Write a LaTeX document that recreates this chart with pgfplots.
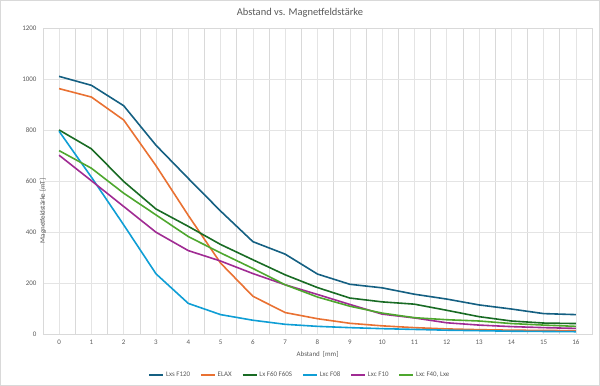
\documentclass[border=0pt]{standalone}
\usepackage{pgfplots}
\pgfplotsset{compat=1.18}
\usepackage{fontspec}
\setmainfont{Carlito}
\definecolor{cA}{HTML}{156082}
\definecolor{cB}{HTML}{E97132}
\definecolor{cC}{HTML}{196B24}
\definecolor{cD}{HTML}{0F9ED5}
\definecolor{cE}{HTML}{A02B93}
\definecolor{cF}{HTML}{4EA72E}
\definecolor{txt}{HTML}{595959}
\definecolor{grd}{HTML}{D9D9D9}
\begin{document}
\begin{tikzpicture}
\draw[draw=grd, line width=0.8bp] (0.5bp,0.5bp) rectangle (599.5bp,385.5bp);
\node[text=txt, font=\fontsize{10.5}{12}\selectfont] at (300bp,373bp) {Abstand vs. Magnetfeldstärke};
\begin{axis}[
  at={(43bp,52bp)}, anchor=south west,
  scale only axis, width=549bp, height=306bp,
  xmin=-0.5, xmax=16.5, ymin=0, ymax=1200,
  xtick={0,...,16}, minor xtick={-0.5,0.5,...,16.5},
  ytick={0,200,...,1200},
  major tick length=0pt, minor tick length=0pt,
  grid=both,
  major grid style={draw=grd!70, line width=0.6bp},
  minor grid style={draw=grd, line width=0.6bp},
  ymajorgrids=true,
  axis line style={draw=grd, line width=0.6bp},
  tick label style={text=txt, font=\fontsize{7}{8}\selectfont},
  /pgf/number format/assume math mode=true,
  /pgf/number format/set thousands separator={},
  yticklabel style={xshift=-3bp},
  xticklabel style={yshift=-2bp},
  xlabel={Abstand\ \ [mm]}, ylabel={Magnetfeldstärke [mT]},
  label style={text=txt, font=\fontsize{7}{8}\selectfont},
  xlabel style={at={(axis description cs:0.5,0)}, anchor=center, yshift=-20bp},
  ylabel style={at={(axis description cs:0,0.5)}, anchor=center, xshift=-30bp},
  legend style={at={(axis description cs:0.468,-0.134)}, anchor=center, draw=none, fill=none,
    font=\fontsize{7}{8}\selectfont, text=txt, legend columns=-1,
    /tikz/every even column/.append style={column sep=8bp}},
  legend image code/.code={\draw[#1, line width=1.6bp] (0bp,0bp) -- (14bp,0bp);},
  every axis plot/.append style={line width=1.6bp, mark=none},
]
\addplot[cA] coordinates {(0,1010)(1,975)(2,895)(3,740)(4,610)(5,482)(6,362)(7,313)(8,235)(9,195)(10,181)(11,156)(12,137)(13,114)(14,98)(15,80)(16,76)};
\addlegendentry{Lxs F120}
\addplot[cB] coordinates {(0,962)(1,929)(2,839)(3,660)(4,465)(5,278)(6,148)(7,84)(8,60)(9,42)(10,32)(11,25)(12,20)(13,17)(14,15)(15,14)(16,13)};
\addlegendentry{ELAX}
\addplot[cC] coordinates {(0,800)(1,726)(2,598)(3,490)(4,422)(5,351)(6,291)(7,232)(8,182)(9,141)(10,126)(11,117)(12,93)(13,68)(14,51)(15,43)(16,41)};
\addlegendentry{Lx F60 F60S}
\addplot[cD] coordinates {(0,795)(1,615)(2,428)(3,236)(4,120)(5,76)(6,54)(7,38)(8,30)(9,25)(10,21)(11,18)(12,15)(13,13)(14,11)(15,10)(16,9)};
\addlegendentry{Lxc F08}
\addplot[cE] coordinates {(0,701)(1,601)(2,500)(3,399)(4,327)(5,286)(6,237)(7,193)(8,155)(9,116)(10,78)(11,63)(12,44)(13,35)(14,29)(15,25)(16,22)};
\addlegendentry{Lxc F10}
\addplot[cF] coordinates {(0,719)(1,650)(2,552)(3,467)(4,382)(5,318)(6,257)(7,193)(8,145)(9,109)(10,82)(11,64)(12,56)(13,51)(14,41)(15,35)(16,30)};
\addlegendentry{Lxc F40, Lxe}
\end{axis}
\end{tikzpicture}
\end{document}
